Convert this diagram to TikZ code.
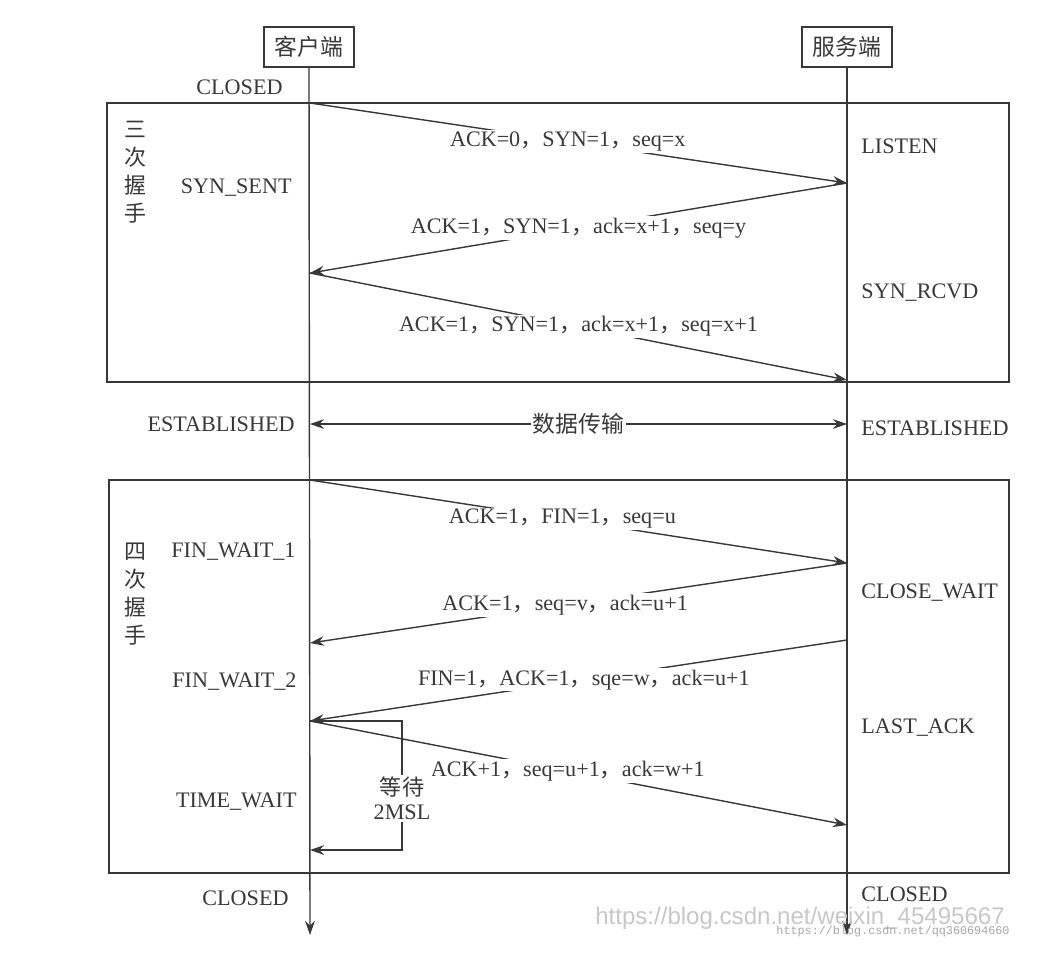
\documentclass[tikz,border=0pt]{standalone}
\usepackage{fontspec}
\setmainfont{Liberation Serif}
\newfontfamily\cjk{Noto Sans CJK SC}
\newfontfamily\wmsans{Liberation Sans}
\newfontfamily\wmmono{Liberation Mono}
\usetikzlibrary{arrows.meta}
\newcommand{\dou}{{\cjk ，}}

\begin{document}
\begin{tikzpicture}[x=0.02cm,y=-0.02cm,line width=0.8pt,color=black!78,
party/.style={rectangle,draw,minimum width=1.8cm,minimum height=0.8cm,inner sep=2pt,font=\cjk\fontsize{13}{15}\selectfont},
lstate/.style={anchor=east,inner sep=1pt,font=\fontsize{12.6}{14}\selectfont},
rstate/.style={anchor=west,inner sep=1pt,font=\fontsize{12.6}{14}\selectfont},
msg/.style={fill=white,inner sep=1pt,font=\fontsize{12.6}{14}\selectfont},
side/.style={align=center,inner sep=0pt,font=\cjk\fontsize{12.5}{16}\selectfont},
tip/.style={-{Stealth[length=8pt,width=5.5pt]}},
both/.style={{Stealth[length=8pt,width=5.5pt]}-{Stealth[length=8pt,width=5.5pt]}}]
\useasboundingbox (0,0) rectangle (1058,958);

\node [party] (client) at (309,47) {客户端};
\node [party] (server) at (847,47) {服务端};
\coordinate (client-end) at (310,935);
\coordinate (server-end) at (847,935);
\draw [tip] (client.south) -- (client-end);
\draw [tip] (server.south) -- (server-end);

\draw (107,103) rectangle (1009,382);
\draw (109,480) rectangle (1009,873);
\node [side] (three) at (135,172) {三\\次\\握\\手};
\node [side] (four) at (135,594) {四\\次\\握\\手};

\node [lstate] (c-closed) at (285,87) {CLOSED};
\node [lstate] (c-sent) at (294,188) {SYN\_SENT};
\node [lstate] (c-est) at (297,424) {ESTABLISHED};
\node [lstate] (c-fw1) at (298,552) {FIN\_WAIT\_1};
\node [lstate] (c-fw2) at (299,682) {FIN\_WAIT\_2};
\node [lstate] (c-tw) at (299,802) {TIME\_WAIT};
\node [lstate] (c-closed2) at (291,898) {CLOSED};
\node [rstate] (s-listen) at (859,146) {LISTEN};
\node [rstate] (s-rcvd) at (859,293) {SYN\_RCVD};
\node [rstate] (s-est) at (859,428) {ESTABLISHED};
\node [rstate] (s-cw) at (859,593) {CLOSE\_WAIT};
\node [rstate] (s-la) at (859,728) {LAST\_ACK};
\node [rstate] (s-closed) at (859,894) {CLOSED};

\coordinate (c1) at (310,103);
\coordinate (c2) at (310,273);
\coordinate (c3) at (310,424);
\coordinate (c4) at (310,480);
\coordinate (c5) at (310,643);
\coordinate (c6) at (310,721);
\coordinate (c7) at (310,850);
\coordinate (s1) at (847,183);
\coordinate (s2) at (847,380);
\coordinate (s3) at (847,424);
\coordinate (s4) at (847,563);
\coordinate (s5) at (847,640);
\coordinate (s6) at (847,825);
\coordinate (w1) at (402,721);
\coordinate (w2) at (402,850);

\draw [tip] (c1) -- node [msg,pos=0.48] {ACK=0\dou SYN=1\dou seq=x} (s1);
\draw [tip] (s1) -- node [msg,pos=0.5] {ACK=1\dou SYN=1\dou ack=x+1\dou seq=y} (c2);
\draw [tip] (c2) -- node [msg,pos=0.5] {ACK=1\dou SYN=1\dou ack=x+1\dou seq=x+1} (s2);
\draw [both] (c3) -- node [msg,font=\cjk\fontsize{13}{15}\selectfont] {数据传输} (s3);
\draw [tip] (c4) -- node [msg,pos=0.47] {ACK=1\dou FIN=1\dou seq=u} (s4);
\draw [tip] (s4) -- node [msg,pos=0.525] {ACK=1\dou seq=v\dou ack=u+1} (c5);
\draw [tip] (s5) -- node [msg,pos=0.49] {FIN=1\dou ACK=1\dou sqe=w\dou ack=u+1} (c6);
\draw [tip] (c6) -- node [msg,pos=0.48] {ACK+1\dou seq=u+1\dou ack=w+1} (s6);
\draw [tip] (c6) -- (w1) -- node [msg,pos=0.6,align=center] {{\cjk 等待}\\2MSL} (w2) -- (c7);

\node [text=black!22,font=\wmsans\fontsize{13.7}{16}\selectfont] (mark) at (800,918) {https://blog.csdn.net/weixin\_45495667};
\node [text=black!35,font=\wmmono\fontsize{6.7}{8}\selectfont] (mark2) at (893,931) {https://blog.csdn.net/qq360694660};
\end{tikzpicture}
\end{document}
